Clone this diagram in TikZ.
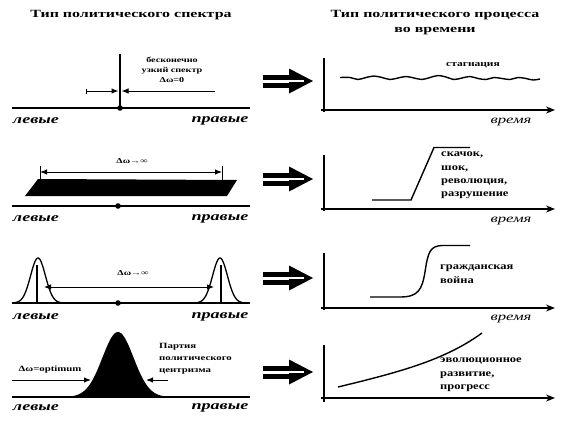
\documentclass[tikz,border=0pt]{standalone}
\usepackage{fontspec}
\setmainfont{Liberation Serif}
\newfontfamily\ttl[FakeStretch=1.45]{Liberation Serif}
\newfontfamily\lbl[FakeStretch=1.25]{Liberation Serif}
\newfontfamily\sml[FakeStretch=1.35]{Liberation Serif}
\newfontfamily\lr[FakeStretch=1.45]{Liberation Serif}
\usetikzlibrary{arrows.meta}
\tikzset{
  titletext/.style={font=\ttl\bfseries\fontsize{11}{15}\selectfont, align=center},
  sidetext/.style={font=\lr\bfseries\itshape\fontsize{12.5}{14}\selectfont},
  curvetext/.style={font=\lbl\bfseries\fontsize{10}{13.3}\selectfont, align=left, anchor=north west, inner sep=0pt},
  smalltext/.style={font=\sml\bfseries\fontsize{7.5}{10}\selectfont, align=center, inner sep=0pt},
  baseline line/.style={line width=1.4pt},
  axis/.style={line width=1.6pt},
  timeaxis/.style={line width=1.3pt, -{Stealth[length=9pt,width=7pt]}},
  curve/.style={line width=1.4pt},
  arr/.style={line width=1pt, -{Latex[length=7pt,width=5.5pt]}},
  darr/.style={line width=1pt, {Latex[length=7pt,width=5.5pt]}-{Latex[length=7pt,width=5.5pt]}},
}
\newcommand\dblarrow[1]{%
  \fill (263,#1-6.5) rectangle (298,#1-1.5);
  \fill (263,#1+1.5) rectangle (298,#1+6.5);
  \fill (289,#1-12.5) -- (313,#1) -- (289,#1+12.5) -- cycle;
  \draw[white, line width=2.2pt] (284,#1) -- (304,#1);
}
\begin{document}
\begin{tikzpicture}[x=1pt,y=-1pt]
\useasboundingbox (0,0) rectangle (575,421);
\fill[white] (0,0) rectangle (575,421);

% titles
\node[titletext] (t1) at (131,15) {Тип политического спектра};
\node[titletext] (t2) at (435,23) {Тип политического процесса\\во времени};

% ---------- row 1 ----------
\draw[baseline line] (12,108) -- (250,108);
\draw[line width=1.6pt] (120,54) -- (120,108);
\fill (120,108) circle (2.8);
\draw[arr] (86,91) -- (118.5,91);
\draw[arr] (215,91) -- (121.5,91);
\draw[line width=0.8pt] (86,88.5) -- (86,93.5);
\node[smalltext] (l1) at (172,70) {бесконечно\\узкий спектр\\Δω=0};
\node[sidetext] (lv1) at (36,121) {левые};
\node[sidetext] (pr1) at (220,121) {правые};

\dblarrow{81}

\draw[axis] (324,58) -- (324,112);
\draw[timeaxis] (321,110) -- (555,110);
\draw[curve] plot[smooth] coordinates {(340,77.5) (350,77.5) (358,79.5) (366,77.5) (374,76) (382,77.5) (390,79.5) (398,78) (406,76.5) (414,78) (422,79.5) (430,77.5) (438,75.5) (446,77) (454,79.5) (462,78) (470,76.5) (478,78.5) (486,79.5) (494,77.5) (502,78.5) (510,79.5) (518,77.5) (526,78.5) (533,80) (540,79)};
\node[smalltext, font=\sml\bfseries\fontsize{8.5}{10}\selectfont] (c1) at (473,65) {стагнация};
\node[sidetext, font=\lr\itshape\fontsize{11.5}{14}\selectfont] (v1) at (511,122) {время};

% ---------- row 2 ----------
\fill (38,179) -- (237,180) -- (227,196) -- (25,196) -- cycle;
\draw[darr] (40,172) -- (222,172);
\draw[line width=1pt] (40,166) -- (40,180) (222,166) -- (222,180);
\node[smalltext] (l2) at (132,161) {Δω→∞};
\draw[baseline line] (12,206) -- (250,206);
\fill (118,206) circle (2.8);
\node[sidetext] (lv2) at (36,219) {левые};
\node[sidetext] (pr2) at (220,219) {правые};

\dblarrow{179}

\draw[axis] (324,155) -- (324,211);
\draw[timeaxis] (321,209) -- (555,209);
\draw[curve] (372,200) -- (411,200) -- (434,147.5) -- (470,147.5);
\node[curvetext] (c2) at (441,152) {скачок,\\шок,\\революция,\\разрушение};
\node[sidetext, font=\lr\itshape\fontsize{11.5}{14}\selectfont] (v2) at (511,221) {время};

% ---------- row 3 ----------
\draw[line width=1.3pt] plot[domain=12:64, samples=60, smooth] (\x,{303-45*exp(-1*((\x-38)/10.5)*((\x-38)/10.5))});
\draw[line width=1.3pt] plot[domain=194:246, samples=60, smooth] (\x,{303-45*exp(-1*((\x-220)/10.5)*((\x-220)/10.5))});
\draw[line width=1.1pt] (37,265) -- (37,303) (221,265) -- (221,303);
\draw[darr] (44,287) -- (214,287);
\node[smalltext] (l3) at (133,273) {Δω→∞};
\draw[baseline line] (12,303) -- (250,303);
\fill (118,303) circle (2.8);
\node[sidetext] (lv3) at (36,317) {левые};
\node[sidetext] (pr3) at (220,317) {правые};

\dblarrow{278}

\draw[axis] (324,253) -- (324,310);
\draw[timeaxis] (321,308) -- (555,308);
\draw[curve] (370,297) -- (400,297) .. controls (418,297) and (422,290) .. (425,272) .. controls (428,252) and (430,246) .. (442,245.5) -- (470,245.5);
\node[curvetext] (c3) at (440,265) {гражданская\\война};
\node[sidetext, font=\lr\itshape\fontsize{11.5}{14}\selectfont] (v3) at (511,319) {время};

% ---------- row 4 ----------
\fill plot[domain=70:166, samples=80, smooth] (\x,{397-65*exp(-1*((\x-118)/22)*((\x-118)/22))}) -- cycle;
\draw[baseline line] (12,397) -- (250,397);
\coordinate (la) at (12,380);
\coordinate (ra) at (168,380);
\draw[arr] (la) -- (91,380);
\draw[arr] (ra) -- (146,380);
\node[smalltext, font=\sml\bfseries\fontsize{8}{10}\selectfont] (l4) at (50,370) {Δω=optimum};
\node[curvetext, font=\sml\bfseries\fontsize{8}{12}\selectfont] (p4) at (159,343) {Партия\\политического\\центризма};
\node[sidetext] (lv4) at (36,408) {левые};
\node[sidetext] (pr4) at (220,408) {правые};

\dblarrow{372}

\draw[axis] (324,345) -- (324,402);
\draw[timeaxis] (321,398) -- (555,398);
\draw[curve] (338,387) .. controls (400,372) and (445,360) .. (482,333);
\node[curvetext] (c4) at (440,358) {эволюционное\\развитие,\\прогресс};
\end{tikzpicture}
\end{document}
